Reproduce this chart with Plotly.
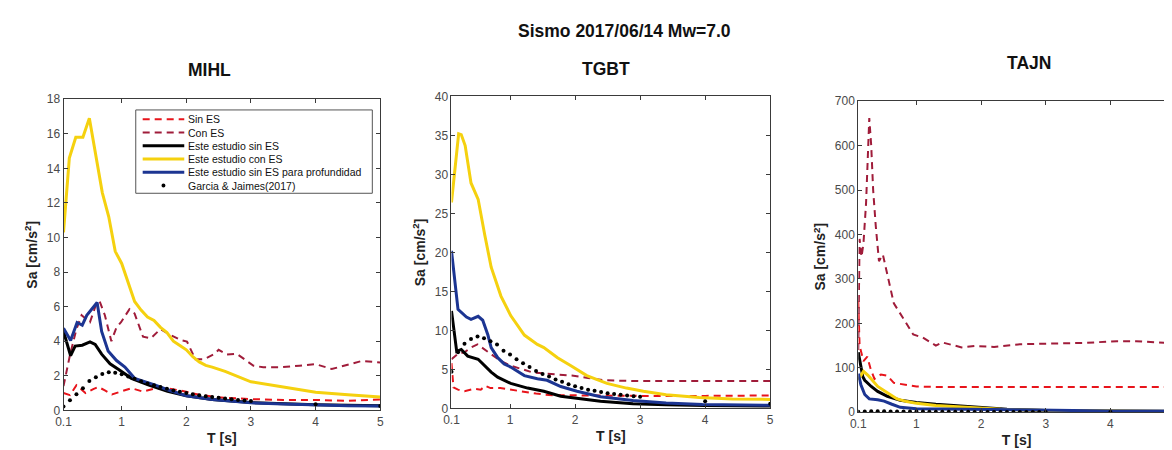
import plotly.graph_objects as go

# ---------------- DATA ----------------
# MIHL
mihl_sin_T = [0.1, 0.2, 0.3, 0.44, 0.56, 0.64, 0.74, 0.85, 1.0, 1.15, 1.33, 1.5, 1.7, 1.9, 2.2, 2.5, 3.0, 3.5, 4.0, 4.5, 5.0]
mihl_sin_Sa = [1.0, 0.88, 1.45, 1.0, 1.23, 1.35, 1.15, 0.92, 1.1, 1.28, 1.08, 1.25, 1.28, 1.15, 0.9, 0.75, 0.65, 0.6, 0.6, 0.55, 0.62]
mihl_con_T = [0.1, 0.2, 0.3, 0.38, 0.51, 0.61, 0.66, 0.74, 0.84, 0.92, 0.99, 1.12, 1.2, 1.33, 1.45, 1.6, 1.76, 1.91, 2.01, 2.14, 2.27, 2.42, 2.5, 2.63, 2.78, 2.91, 3.04, 3.19, 3.44, 3.75, 4.0, 4.25, 4.46, 4.72, 5.0]
mihl_con_Sa = [1.4, 3.2, 4.7, 5.5, 5.1, 6.2, 6.3, 5.5, 4.0, 4.8, 5.1, 5.85, 5.6, 4.26, 4.17, 4.7, 4.35, 4.07, 3.98, 2.95, 2.95, 3.23, 3.5, 3.23, 3.27, 2.95, 2.58, 2.49, 2.49, 2.58, 2.67, 2.39, 2.58, 2.86, 2.77]
mihl_blk_T = [0.1, 0.21, 0.28, 0.39, 0.51, 0.59, 0.69, 0.82, 0.97, 1.15, 1.41, 1.71, 2.0, 2.4, 3.0, 3.5, 4.0, 4.5, 5.0]
mihl_blk_Sa = [4.56, 3.16, 3.72, 3.77, 3.96, 3.81, 3.25, 2.69, 2.32, 1.85, 1.47, 1.1, 0.84, 0.63, 0.45, 0.38, 0.32, 0.29, 0.27]
mihl_yel_T = [0.1, 0.19, 0.29, 0.4, 0.5, 0.7, 0.8, 0.9, 1.0, 1.1, 1.2, 1.3, 1.4, 1.5, 1.6, 1.7, 1.8, 1.9, 2.0, 2.1, 2.2, 2.3, 2.4, 2.6, 2.8, 3.0, 3.5, 4.0, 4.5, 5.0]
mihl_yel_Sa = [10.3, 14.6, 15.8, 15.8, 16.9, 12.6, 11.2, 9.2, 8.5, 7.4, 6.3, 5.8, 5.4, 5.2, 4.8, 4.5, 4.0, 3.75, 3.5, 3.1, 2.8, 2.6, 2.5, 2.25, 1.95, 1.65, 1.35, 1.05, 0.9, 0.77]
mihl_blu_T = [0.1, 0.21, 0.31, 0.39, 0.46, 0.62, 0.69, 0.79, 0.92, 1.05, 1.2, 1.36, 1.51, 1.71, 2.0, 2.4, 2.75, 3.0, 3.5, 4.0, 4.5, 5.0]
mihl_blu_Sa = [4.75, 4.04, 5.08, 4.93, 5.5, 6.24, 4.56, 3.44, 2.88, 2.5, 1.85, 1.66, 1.47, 1.19, 0.84, 0.63, 0.5, 0.43, 0.36, 0.3, 0.27, 0.25]
garcia_T = [0.1, 0.2, 0.3, 0.4, 0.5, 0.6, 0.7, 0.8, 0.9, 1.0, 1.1, 1.2, 1.3, 1.4, 1.5, 1.6, 1.7, 1.8, 1.9, 2.0,
            2.1, 2.2, 2.3, 2.4, 2.5, 2.6, 2.7, 2.8, 2.9, 3.0, 4.0, 5.0]
mihl_gar_Sa = [0.22, 0.58, 0.93, 1.27, 1.7, 1.92, 2.1, 2.2, 2.18, 2.08, 1.95, 1.82, 1.68, 1.55, 1.45, 1.35, 1.25, 1.15, 1.07, 1.0,
               0.93, 0.87, 0.82, 0.77, 0.72, 0.68, 0.64, 0.6, 0.57, 0.54, 0.35, 0.25]

# TGBT
tgbt_sin_T = [0.1, 0.13, 0.2, 0.3, 0.45, 0.55, 0.62, 0.7, 0.85, 1.0, 1.2, 1.4, 1.6, 2.0, 3.0, 4.0, 5.0]
tgbt_sin_Sa = [5.8, 2.7, 2.4, 2.2, 2.5, 2.4, 2.9, 2.6, 2.6, 2.4, 2.2, 1.9, 1.7, 1.65, 1.6, 1.6, 1.65]
tgbt_con_T = [0.1, 0.2, 0.3, 0.4, 0.5, 0.6, 0.7, 0.85, 1.0, 1.2, 1.35, 1.5, 1.7, 1.95, 2.2, 2.45, 2.7, 3.0, 4.0, 5.0]
tgbt_con_Sa = [6.3, 7.0, 7.2, 7.8, 8.2, 7.6, 6.9, 6.1, 5.5, 5.0, 4.6, 4.5, 4.4, 4.2, 3.9, 3.6, 3.55, 3.5, 3.5, 3.5]
tgbt_blk_T = [0.1, 0.18, 0.25, 0.35, 0.51, 0.61, 0.71, 0.81, 1.01, 1.27, 1.52, 1.78, 2.03, 2.39, 2.89, 3.4, 4.0, 5.0]
tgbt_blk_Sa = [12.5, 7.3, 7.55, 6.7, 6.3, 5.5, 4.65, 4.0, 3.2, 2.6, 2.2, 1.55, 1.3, 0.9, 0.6, 0.45, 0.38, 0.3]
tgbt_yel_T = [0.1, 0.21, 0.25, 0.31, 0.4, 0.51, 0.61, 0.71, 0.86, 1.01, 1.22, 1.42, 1.52, 1.73, 1.93, 2.18, 2.49, 2.79, 3.05, 3.4, 3.91, 4.42, 5.0]
tgbt_yel_Sa = [26.4, 35.2, 35.1, 33.7, 28.9, 26.8, 22.3, 18.1, 14.4, 11.9, 9.4, 8.2, 7.8, 6.5, 5.5, 4.2, 3.2, 2.6, 2.2, 1.75, 1.4, 1.2, 1.15]
tgbt_blu_T = [0.1, 0.2, 0.33, 0.4, 0.51, 0.58, 0.66, 0.71, 0.81, 0.91, 1.01, 1.22, 1.42, 1.57, 1.78, 2.03, 2.39, 2.89, 3.4, 3.96, 5.0]
tgbt_blu_Sa = [20.2, 12.7, 11.7, 11.4, 11.8, 11.3, 9.4, 7.8, 6.5, 5.7, 5.3, 4.2, 3.8, 3.6, 2.8, 2.2, 1.5, 1.0, 0.7, 0.5, 0.4]
tgbt_gar_Sa = [4.7, 7.2, 8.3, 8.9, 9.2, 9.0, 8.6, 8.2, 7.4, 6.9, 6.3, 5.8, 5.3, 4.8, 4.4, 4.1, 3.7, 3.4, 3.1, 2.85,
               2.6, 2.4, 2.25, 2.1, 1.95, 1.85, 1.75, 1.65, 1.55, 1.5, 0.9, 0.6]

# TAJN
tajn_sin_T = [0.1, 0.12, 0.18, 0.24, 0.29, 0.35, 0.45, 0.55, 0.65, 0.8, 1.0, 1.3, 2.0, 3.0, 4.0, 5.0]
tajn_sin_Sa = [250, 150, 115, 125, 98, 75, 85, 82, 66, 62, 58, 57, 57, 57, 57, 57]
tajn_con_T = [0.1, 0.12, 0.15, 0.18, 0.22, 0.25, 0.27, 0.3, 0.33, 0.37, 0.42, 0.48, 0.55, 0.65, 0.78, 0.95, 1.1, 1.3, 1.4, 1.7, 1.9, 2.2, 2.6, 3.1, 3.6, 4.1, 4.4, 5.0]
tajn_con_Sa = [140, 390, 350, 380, 470, 620, 662, 600, 500, 420, 340, 355, 310, 245, 215, 175, 168, 150, 157, 146, 149, 147, 153, 154, 156, 160, 160, 155]
tajn_blk_T = [0.1, 0.15, 0.17, 0.2, 0.3, 0.4, 0.55, 0.75, 1.0, 1.3, 1.6, 2.0, 2.4, 3.0, 4.0, 5.0]
tajn_blk_Sa = [135, 100, 80, 72, 58, 47, 36, 27, 22, 18, 15, 11, 7, 4, 2.5, 1.5]
tajn_yel_T = [0.1, 0.18, 0.25, 0.4, 0.55, 0.7, 0.85, 1.0, 1.3, 1.8, 2.3, 3.0, 4.0, 5.0]
tajn_yel_Sa = [73, 92, 83, 58, 44, 30, 24, 20, 15, 10, 6.5, 4, 2.5, 1.8]
tajn_blu_T = [0.1, 0.14, 0.2, 0.27, 0.4, 0.5, 0.62, 0.75, 1.0, 1.5, 2.0, 3.0, 4.0, 5.0]
tajn_blu_Sa = [87, 62, 40, 30, 28, 25, 18, 11, 8, 7, 6, 4, 3, 2.5]
tajn_gar_Sa = [1.2, 1.8, 2.0, 2.1, 2.0, 1.9, 1.8, 1.7, 1.6, 1.5, 1.4, 1.3, 1.2, 1.1, 1.0, 0.95, 0.9, 0.85, 0.8, 0.75,
               0.7, 0.65, 0.6, 0.55, 0.5, 0.5, 0.45, 0.45, 0.4, 0.4, 0.3, 0.2]

names = ["Sin ES", "Con ES", "Este estudio sin ES", "Este estudio con ES",
         "Este estudio sin ES para profundidad", "Garcia & Jaimes(2017)"]
stations = ["MIHL", "TGBT", "TAJN"]
suptitle = "Sismo 2017/06/14 Mw=7.0"
y_max = [18, 40, 700]
y_dtick = [2, 5, 100]
x_ticks = [0.1, 1, 2, 3, 4, 5]
x_ticklabels = ["0.1", "1", "2", "3", "4", "5"]

panels = [
    [(mihl_sin_T, mihl_sin_Sa), (mihl_con_T, mihl_con_Sa), (mihl_blk_T, mihl_blk_Sa),
     (mihl_yel_T, mihl_yel_Sa), (mihl_blu_T, mihl_blu_Sa), (garcia_T, mihl_gar_Sa)],
    [(tgbt_sin_T, tgbt_sin_Sa), (tgbt_con_T, tgbt_con_Sa), (tgbt_blk_T, tgbt_blk_Sa),
     (tgbt_yel_T, tgbt_yel_Sa), (tgbt_blu_T, tgbt_blu_Sa), (garcia_T, tgbt_gar_Sa)],
    [(tajn_sin_T, tajn_sin_Sa), (tajn_con_T, tajn_con_Sa), (tajn_blk_T, tajn_blk_Sa),
     (tajn_yel_T, tajn_yel_Sa), (tajn_blu_T, tajn_blu_Sa), (garcia_T, tajn_gar_Sa)],
]

# ---------------- STYLE ----------------
W, H = 1172, 450
FONT = "Liberation Sans, Arial, sans-serif"
DASH = "7px,5px"
colors = ["#E8141B", "#A01C3A", "#000000", "#F5D10F", "#1C3592", "#000000"]
styles = [
    dict(mode="lines", line=dict(color=colors[0], width=2, dash=DASH)),
    dict(mode="lines", line=dict(color=colors[1], width=2, dash=DASH)),
    dict(mode="lines", line=dict(color=colors[2], width=3)),
    dict(mode="lines", line=dict(color=colors[3], width=3)),
    dict(mode="lines", line=dict(color=colors[4], width=3)),
    dict(mode="markers", marker=dict(color=colors[5], size=4)),
]

# pixel boxes of plot areas: (x0, x1, y_top, y_bottom)
boxes = [(48, 368, 87, 408), (440, 762, 84, 406), (851, 1171, 89, 410)]

fig = go.Figure()
for p, data in enumerate(panels):
    ax = "" if p == 0 else str(p + 1)
    for s, (T, Sa) in enumerate(data):
        fig.add_trace(go.Scatter(x=T, y=Sa, name=names[s], showlegend=False,
                                 xaxis="x" + ax, yaxis="y" + ax, **styles[s]))
    x0, x1, yt, yb = boxes[p]
    axis_common = dict(showline=True, linecolor="#3a3a3a", linewidth=1, mirror="ticks",
                       ticks="inside", ticklen=4, tickcolor="#3a3a3a", showgrid=False,
                       zeroline=False, tickfont=dict(family=FONT, size=12, color="#4a4a4a"))
    fig.update_layout(**{
        "xaxis" + ax: dict(domain=[x0 / W, x1 / W], range=[0.1, 5], tickvals=x_ticks,
                           ticktext=x_ticklabels, anchor="y" + ax,
                           title=dict(text="<b>T [s]</b>", standoff=5,
                                      font=dict(family=FONT, size=14, color="#222")),
                           **axis_common),
        "yaxis" + ax: dict(domain=[1 - yb / H, 1 - yt / H], range=[0, y_max[p]], dtick=y_dtick[p],
                           anchor="x" + ax,
                           title=dict(text="<b>Sa [cm/s<sup>2</sup>]</b>", standoff=5,
                                      font=dict(family=FONT, size=14, color="#222")),
                           **axis_common),
    })

def px(x):
    return x / W

def py(y):
    return 1 - y / H

annotations = [
    dict(text="<b>%s</b>" % suptitle, x=px(615), y=py(17), xref="paper", yref="paper",
         showarrow=False, font=dict(family=FONT, size=17.5, color="#111"), xanchor="center", yanchor="middle"),
]
title_pos = [(195, 57), (596, 56), (1023, 50)]
for name, (tx, ty) in zip(stations, title_pos):
    annotations.append(dict(text="<b>%s</b>" % name, x=px(tx), y=py(ty), xref="paper", yref="paper",
                            showarrow=False, font=dict(family=FONT, size=17.5, color="#111"),
                            xanchor="center", yanchor="middle"))

# legend box (MATLAB style) inside MIHL panel
shapes = [dict(type="rect", xref="paper", yref="paper", x0=px(121), x1=px(360), y0=py(184), y1=py(98),
               line=dict(color="#555", width=1), fillcolor="white", layer="above")]
rows = [107.5, 121.3, 135, 148.7, 162.3, 176]
for s, ry in enumerate(rows):
    if s < 5:
        st = styles[s]["line"]
        shapes.append(dict(type="line", xref="paper", yref="paper", x0=px(128), x1=px(170),
                           y0=py(ry), y1=py(ry), layer="above",
                           line=dict(color=st["color"], width=st["width"], dash=st.get("dash", "solid"))))
    else:
        shapes.append(dict(type="circle", xref="paper", yref="paper", x0=px(147), x1=px(151),
                           y0=py(ry + 2), y1=py(ry - 2), layer="above",
                           fillcolor=colors[5], line=dict(color=colors[5], width=0)))
    annotations.append(dict(text=names[s], x=px(172), y=py(ry), xref="paper", yref="paper",
                            showarrow=False, xanchor="left", yanchor="middle",
                            font=dict(family=FONT, size=10.5, color="#111")))

fig.update_layout(
    width=W, height=H, margin=dict(l=0, r=0, t=0, b=0),
    paper_bgcolor="white", plot_bgcolor="white",
    annotations=annotations, shapes=shapes, showlegend=False,
    font=dict(family=FONT),
)

fig.write_html("out.html")
